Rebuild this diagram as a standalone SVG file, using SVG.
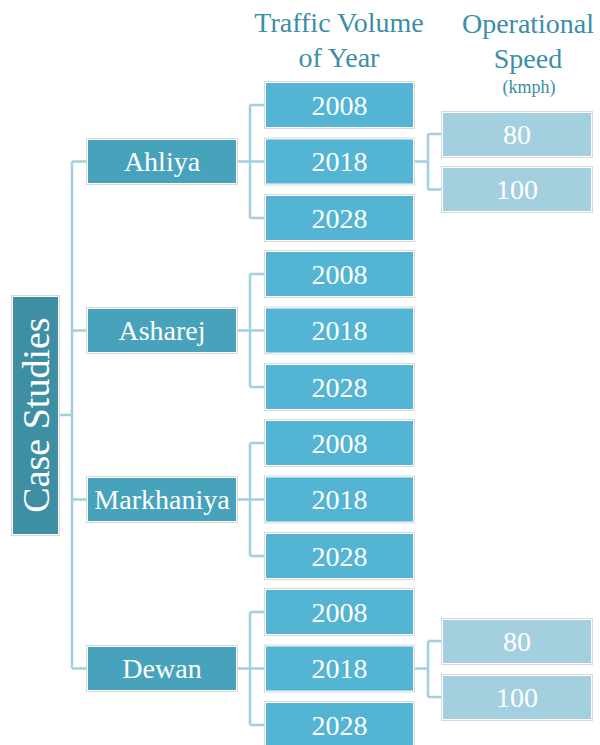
<svg xmlns="http://www.w3.org/2000/svg" width="600" height="745" viewBox="0 0 600 745">
<style>
.frame{fill:#ffffff;stroke:#d9d9d9;stroke-width:1}
.root{fill:#3f8fa4}
.l1{fill:#47a3bb}
.l2{fill:#53b4d3}
.l3{fill:#a3cfdf}
.t{font-family:'Liberation Serif',serif;fill:#ffffff;text-anchor:middle;dominant-baseline:central}
.h{font-family:'Liberation Serif',serif;fill:#3b8ea6;text-anchor:middle}
.c{fill:none;stroke:#a3cfdf;stroke-width:2.5}
</style>
<rect width="600" height="745" fill="#ffffff"/>
<g id="headers">
<text class="h" x="339" y="32" font-size="28">Traffic Volume</text>
<text class="h" x="339" y="67" font-size="28">of Year</text>
<text class="h" x="528" y="33" font-size="28">Operational</text>
<text class="h" x="528" y="68" font-size="28">Speed</text>
<text class="h" x="529" y="93" font-size="18">(kmph)</text>
</g>
<g id="connectors">
<path class="c" d="M58,415 H72 M72,161.5 V668.5 M72,161.5 H88 M72,330.5 H88 M72,499.5 H88 M72,668.5 H88"/>
<path class="c" d="M236,161.5 H266 M250,105 V218 M250,105 H266 M250,218 H266"/>
<path class="c" d="M236,330.5 H266 M250,274 V387 M250,274 H266 M250,387 H266"/>
<path class="c" d="M236,499.5 H266 M250,443 V556 M250,443 H266 M250,556 H266"/>
<path class="c" d="M236,668.5 H266 M250,612 V725 M250,612 H266 M250,725 H266"/>
<path class="c" d="M413,161.5 H428 M428,134 V189.5 M428,134 H443 M428,189.5 H443"/>
<path class="c" d="M413,668.5 H428 M428,641 V697 M428,641 H443 M428,697 H443"/>
</g>
<g id="case-studies">
<rect class="frame" x="11.5" y="295.5" width="48" height="240"/>
<rect class="root" x="13" y="297" width="45" height="237"/>
<text class="t" font-size="38" transform="translate(36,415) rotate(-90)">Case Studies</text>
</g>
<g id="ahliya">
<rect class="frame" x="86.5" y="138.5" width="151" height="46"/>
<rect class="l1" x="88" y="140" width="148" height="43"/>
<text class="t" x="162" y="161.5" font-size="28">Ahliya</text>
</g>
<g id="asharej">
<rect class="frame" x="86.5" y="307.5" width="151" height="46"/>
<rect class="l1" x="88" y="309" width="148" height="43"/>
<text class="t" x="162" y="330.5" font-size="28">Asharej</text>
</g>
<g id="markhaniya">
<rect class="frame" x="86.5" y="476.5" width="151" height="46"/>
<rect class="l1" x="88" y="478" width="148" height="43"/>
<text class="t" x="162" y="499.5" font-size="28">Markhaniya</text>
</g>
<g id="dewan">
<rect class="frame" x="86.5" y="645.5" width="151" height="46"/>
<rect class="l1" x="88" y="647" width="148" height="43"/>
<text class="t" x="162" y="668.5" font-size="28">Dewan</text>
</g>
<g id="ahliya-2008">
<rect class="frame" x="264.5" y="81.5" width="150" height="47"/>
<rect class="l2" x="266" y="83" width="147" height="44"/>
<text class="t" x="339.5" y="105" font-size="28">2008</text>
</g>
<g id="ahliya-2018">
<rect class="frame" x="264.5" y="138" width="150" height="47"/>
<rect class="l2" x="266" y="139.5" width="147" height="44"/>
<text class="t" x="339.5" y="161.5" font-size="28">2018</text>
</g>
<g id="ahliya-2028">
<rect class="frame" x="264.5" y="194.5" width="150" height="47"/>
<rect class="l2" x="266" y="196" width="147" height="44"/>
<text class="t" x="339.5" y="218" font-size="28">2028</text>
</g>
<g id="asharej-2008">
<rect class="frame" x="264.5" y="250.5" width="150" height="47"/>
<rect class="l2" x="266" y="252" width="147" height="44"/>
<text class="t" x="339.5" y="274" font-size="28">2008</text>
</g>
<g id="asharej-2018">
<rect class="frame" x="264.5" y="307" width="150" height="47"/>
<rect class="l2" x="266" y="308.5" width="147" height="44"/>
<text class="t" x="339.5" y="330.5" font-size="28">2018</text>
</g>
<g id="asharej-2028">
<rect class="frame" x="264.5" y="363.5" width="150" height="47"/>
<rect class="l2" x="266" y="365" width="147" height="44"/>
<text class="t" x="339.5" y="387" font-size="28">2028</text>
</g>
<g id="markhaniya-2008">
<rect class="frame" x="264.5" y="419.5" width="150" height="47"/>
<rect class="l2" x="266" y="421" width="147" height="44"/>
<text class="t" x="339.5" y="443" font-size="28">2008</text>
</g>
<g id="markhaniya-2018">
<rect class="frame" x="264.5" y="476" width="150" height="47"/>
<rect class="l2" x="266" y="477.5" width="147" height="44"/>
<text class="t" x="339.5" y="499.5" font-size="28">2018</text>
</g>
<g id="markhaniya-2028">
<rect class="frame" x="264.5" y="532.5" width="150" height="47"/>
<rect class="l2" x="266" y="534" width="147" height="44"/>
<text class="t" x="339.5" y="556" font-size="28">2028</text>
</g>
<g id="dewan-2008">
<rect class="frame" x="264.5" y="588.5" width="150" height="47"/>
<rect class="l2" x="266" y="590" width="147" height="44"/>
<text class="t" x="339.5" y="612" font-size="28">2008</text>
</g>
<g id="dewan-2018">
<rect class="frame" x="264.5" y="645" width="150" height="47"/>
<rect class="l2" x="266" y="646.5" width="147" height="44"/>
<text class="t" x="339.5" y="668.5" font-size="28">2018</text>
</g>
<g id="dewan-2028">
<rect class="frame" x="264.5" y="701.5" width="150" height="47"/>
<rect class="l2" x="266" y="703" width="147" height="44"/>
<text class="t" x="339.5" y="725" font-size="28">2028</text>
</g>
<g id="ahliya-80">
<rect class="frame" x="441.5" y="111.5" width="151" height="46"/>
<rect class="l3" x="443" y="113" width="148" height="43"/>
<text class="t" x="517" y="134" font-size="28">80</text>
</g>
<g id="ahliya-100">
<rect class="frame" x="441.5" y="166.5" width="151" height="46"/>
<rect class="l3" x="443" y="168" width="148" height="43"/>
<text class="t" x="517" y="189.5" font-size="28">100</text>
</g>
<g id="dewan-80">
<rect class="frame" x="441.5" y="618.5" width="151" height="46"/>
<rect class="l3" x="443" y="620" width="148" height="43"/>
<text class="t" x="517" y="641" font-size="28">80</text>
</g>
<g id="dewan-100">
<rect class="frame" x="441.5" y="674.5" width="151" height="46"/>
<rect class="l3" x="443" y="676" width="148" height="43"/>
<text class="t" x="517" y="697" font-size="28">100</text>
</g>
</svg>
